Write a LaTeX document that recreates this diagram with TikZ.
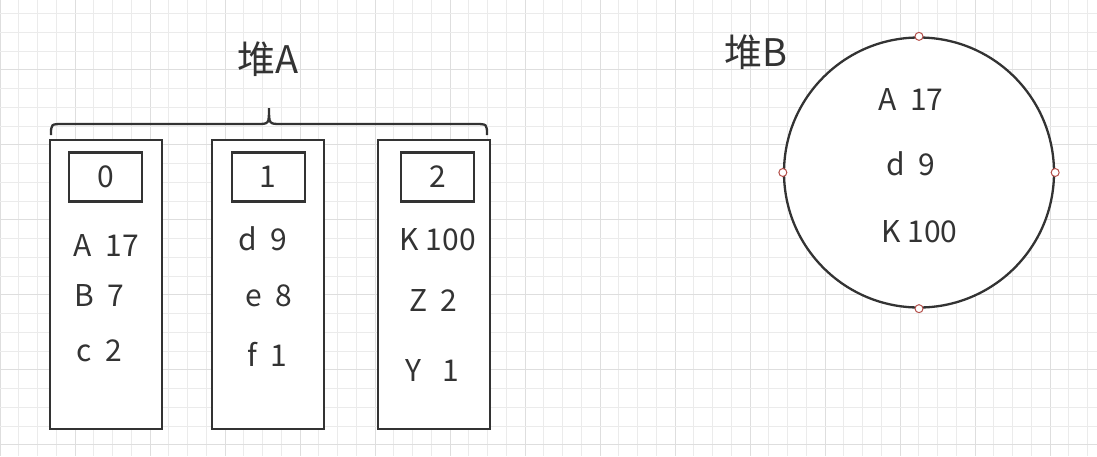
\documentclass[tikz,border=0pt]{standalone}
\usepackage{fontspec}
\setmainfont{Noto Sans CJK SC}
\definecolor{ink}{HTML}{333333}
\definecolor{gridminor}{HTML}{EBEBEB}
\definecolor{gridmajor}{HTML}{DEDEDE}
\definecolor{handle}{HTML}{B5504B}
\tikzset{
  bucket/.style={draw=ink, line width=2.3pt, fill=white, minimum width=112pt, minimum height=289pt, inner sep=0pt},
  idxbox/.style={draw=ink, line width=2.3pt, fill=white, minimum width=73pt, minimum height=49pt, inner sep=0pt, font=\fontsize{30}{33}\selectfont, text=ink},
  entry/.style={anchor=base, inner sep=0pt, font=\fontsize{30}{33}\selectfont, text=ink},
  title/.style={anchor=base, inner sep=0pt, font=\fontsize{38}{42}\selectfont, text=ink},
  heap/.style={draw=ink, line width=2.3pt, fill=white, circle, minimum size=270pt, inner sep=0pt},
  grip/.style={draw=handle, line width=1pt, fill=white, circle, minimum size=8pt, inner sep=0pt}
}
\begin{document}
\begin{tikzpicture}[x=1pt,y=-1pt]
\useasboundingbox (0,0) rectangle (1097,456);
\fill[white] (0,0) rectangle (1097,456);
% grid
\foreach \k in {0,...,58} {
  \pgfmathsetmacro{\gx}{18.75*\k}
  \pgfmathtruncatemacro{\m}{mod(\k,4)}
  \ifnum\m=0
    \draw[gridmajor, line width=1pt] (\gx,0) -- (\gx,456);
  \else
    \draw[gridminor, line width=1pt] (\gx,0) -- (\gx,456);
  \fi
}
\foreach \k in {0,...,24} {
  \pgfmathsetmacro{\gy}{13.5+18.75*\k}
  \pgfmathtruncatemacro{\m}{mod(\k,4)}
  \ifnum\m=3
    \draw[gridmajor, line width=1pt] (0,\gy) -- (1097,\gy);
  \else
    \draw[gridminor, line width=1pt] (0,\gy) -- (1097,\gy);
  \fi
}
% heap A
\node[title] (titleA) at (268.5,73.3) {堆A};
\draw[ink, line width=2.3pt] (51,135) .. controls (51,124) .. (63,124) -- (257,124)
  .. controls (269,124) .. (269,108) .. controls (269,124) .. (281,124) -- (475,124)
  .. controls (487,124) .. (487,135);
\node[bucket] (b0) at (105.8,284.7) {};
\node[bucket] (b1) at (268.3,284.7) {};
\node[bucket] (b2) at (433.7,284.7) {};
\node[idxbox] (i0) at (105.8,177) {0};
\node[idxbox] (i1) at (268.3,177) {1};
\node[idxbox] (i2) at (437.5,177) {2};
\node[entry] (a0) at (106.2,256.7) {A~~17};
\node[entry] (a1) at (99.2,306.7) {B~~7};
\node[entry] (a2) at (99.2,361.7) {c~~2};
\node[entry] (c0) at (263.2,250.7) {d~~9};
\node[entry] (c1) at (268.8,306.7) {e~~8};
\node[entry] (c2) at (267.5,366.7) {f~~1};
\node[entry] (d0) at (437.8,250.7) {K 100};
\node[entry] (d1) at (433.3,311.7) {Z~~2};
\node[entry] (d2) at (432.3,381.7) {Y~~~1};
% heap B
\node[title] (titleB) at (756,66) {堆B};
\node[heap] (hb) at (919,172.5) {};
\node[entry] (e0) at (910.8,110.7) {A~~17};
\node[entry] (e1) at (910.8,175) {d~~9};
\node[entry] (e2) at (919.5,242.3) {K 100};
\node[grip] (gn) at (hb.north) {};
\node[grip] (gs) at (hb.south) {};
\node[grip] (ge) at (hb.east) {};
\node[grip] (gw) at (hb.west) {};
\end{tikzpicture}
\end{document}
